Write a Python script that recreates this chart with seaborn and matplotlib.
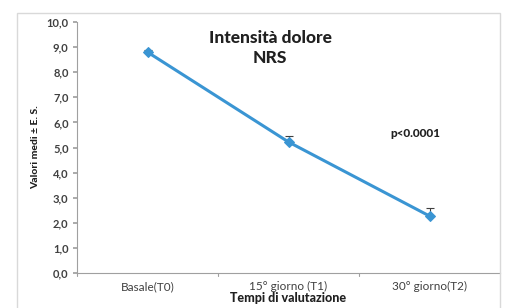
import matplotlib
matplotlib.use("Agg")
import matplotlib.pyplot as plt
import seaborn as sns
import pandas as pd
from matplotlib.patches import Rectangle

categories = ["Basale(T0)", "15° giorno (T1)", "30° giorno(T2)"]
means = [8.8, 5.22, 2.27]
errors = [0.1, 0.25, 0.33]
yticks = [0, 1, 2, 3, 4, 5, 6, 7, 8, 9, 10]

sns.set_theme(style="white")
plt.rcParams['font.family'] = ['Lato', 'DejaVu Sans']

df = pd.DataFrame({"t": categories, "v": means})

fig = plt.figure(figsize=(5.05, 3.08), dpi=100)
fig.patches.append(Rectangle((17/505, -0.05), 483/505, 1.0 - 13/308 + 0.05,
                             transform=fig.transFigure, fill=False,
                             edgecolor="#d9d9d9", linewidth=1.0))
ax = fig.add_axes([77/505, 35/308, 423/505, 251/308])
color = "#3a95d3"
xpos = list(range(len(categories)))
ax.errorbar(xpos, means, yerr=[[0] * len(errors), errors], fmt="none",
            ecolor="#404040", elinewidth=0.8, capsize=3, capthick=0.8, zorder=2)
sns.lineplot(x=xpos, y=means, ax=ax, color=color, linewidth=2.2,
             marker="D", markersize=5, markeredgecolor=color, zorder=3)

ax.set_xlim(-0.5, 2.5)
ax.set_ylim(0, 10)
ax.set_yticks(yticks)
ax.set_yticklabels([f"{v:.1f}".replace(".", ",") for v in yticks],
                   fontsize=8, fontweight="bold", color="#404040")
ax.set_xticks(xpos)
ax.set_xticklabels(categories, fontsize=8.5, color="#404040")
ax.tick_params(axis="x", length=0, pad=6)
ax.tick_params(axis="y", length=3, color="#a0a0a0", left=True, pad=3)
for b in [-0.5, 0.5, 1.5]:
    ax.plot([b, b], [0, -0.12], color="#a0a0a0", lw=0.8, clip_on=False)

for s in ["top", "right"]:
    ax.spines[s].set_visible(False)
for s in ["left", "bottom"]:
    ax.spines[s].set_color("#a0a0a0")
    ax.spines[s].set_linewidth(0.8)

ax.set_ylabel("Valori medi ± E. S.", fontsize=7.5, fontweight="black",
              color="#202020", labelpad=5)
ax.set_xlabel("Tempi di valutazione", fontsize=9, fontweight="black",
              color="#202020", labelpad=0)

fig.text(270/505, 1 - 48/308, "Intensità dolore\nNRS", ha="center", va="center",
         fontsize=12.5, fontweight="black", color="#202020", linespacing=1.25)
fig.text(415/505, 1 - 133/308, "p<0.0001", ha="center", va="center",
         fontsize=8.5, fontweight="black", color="#202020")

fig.savefig("out.png", dpi=100)
